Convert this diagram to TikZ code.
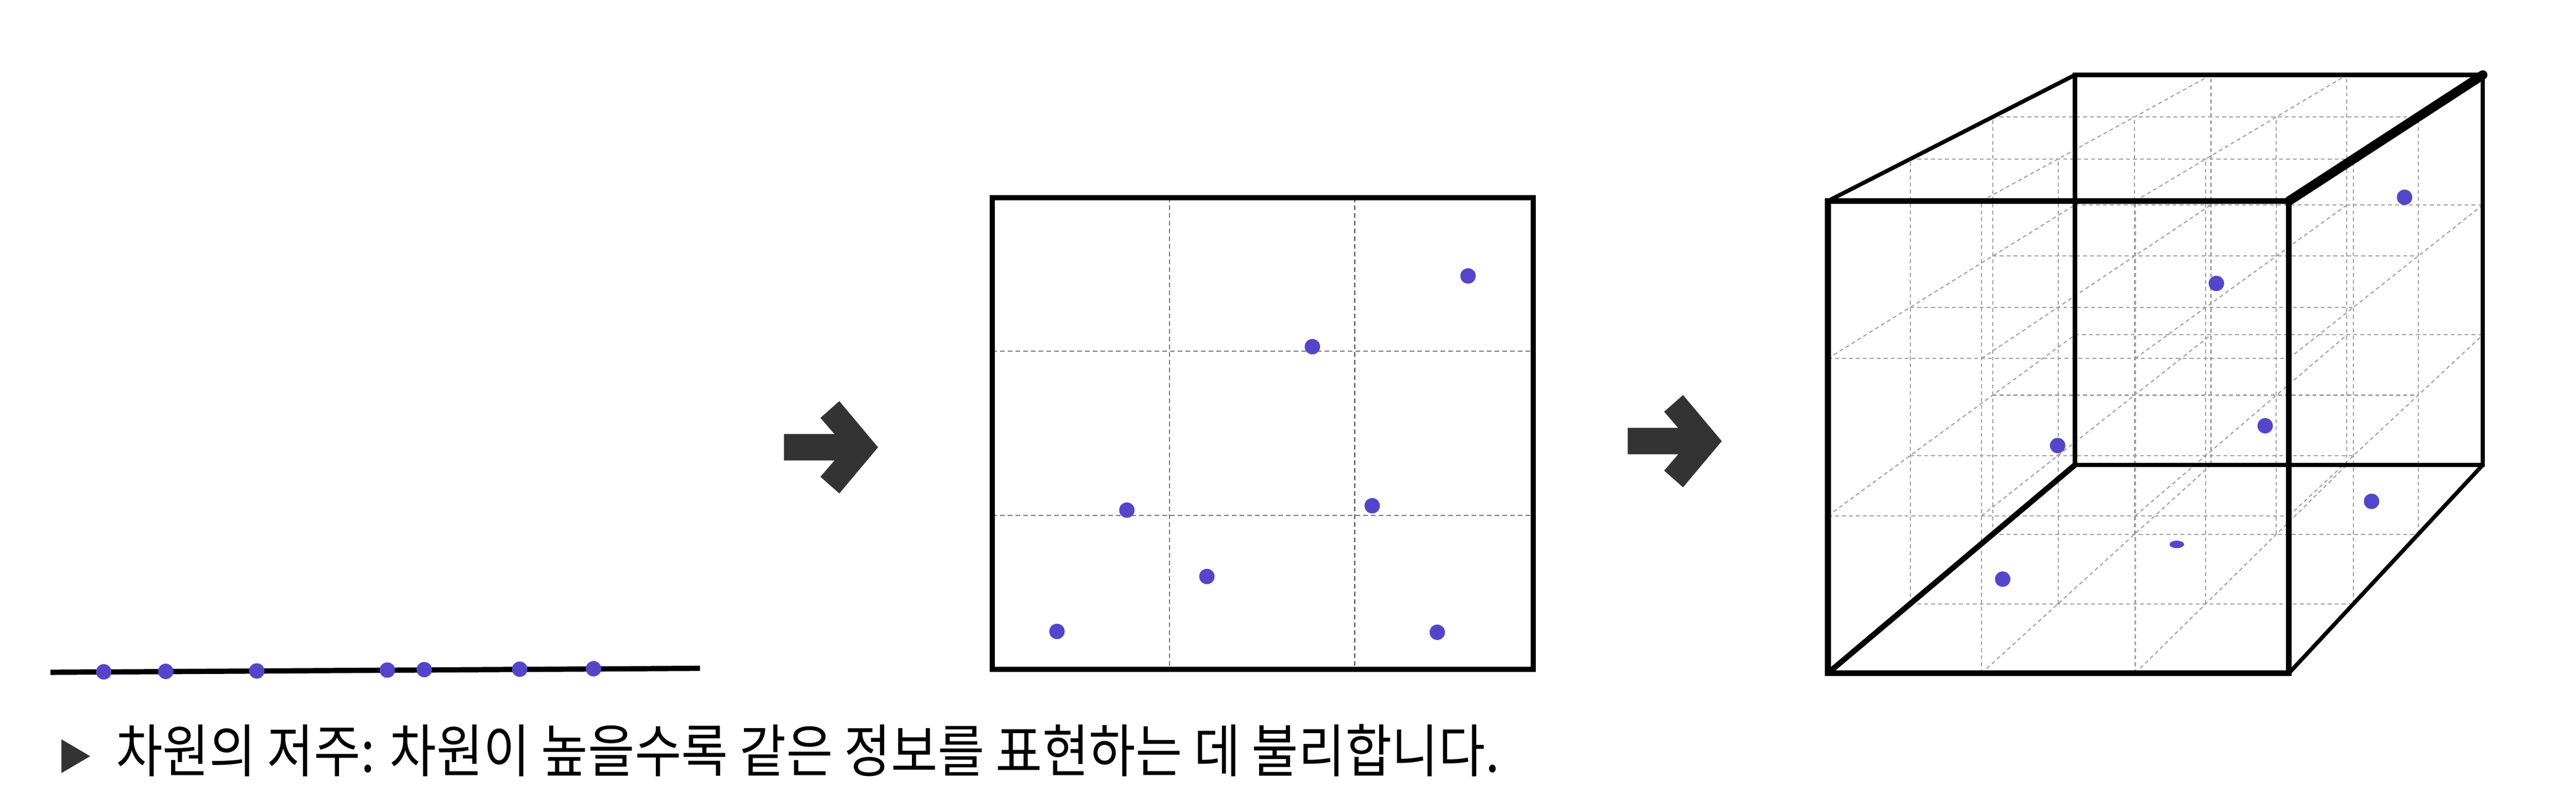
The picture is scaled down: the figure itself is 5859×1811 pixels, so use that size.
\documentclass[tikz,border=0pt]{standalone}
\usepackage{graphicx}
\usepackage{fontspec}
\newfontfamily\krfont{Noto Sans CJK KR}
\newfontfamily\symfont{DejaVu Sans}
\definecolor{dotc}{RGB}{84,70,200}
\definecolor{arrc}{RGB}{51,51,51}
\newcommand\cubeline[6]{%
  \pgfmathsetmacro\cxa{(1-#3)*(4157.5+1048.5*#1)+#3*(4719.5+927.5*#1)}%
  \pgfmathsetmacro\cya{(1-#3)*(1532-1074.5*#2)+#3*(1058-887.5*#2)}%
  \pgfmathsetmacro\cxb{(1-#6)*(4157.5+1048.5*#4)+#6*(4719.5+927.5*#4)}%
  \pgfmathsetmacro\cyb{(1-#6)*(1532-1074.5*#5)+#6*(1058-887.5*#5)}%
  \draw[cubegrid] (\cxa,\cya) -- (\cxb,\cyb);}
\begin{document}
\begin{tikzpicture}[x=0.01cm,y=-0.01cm,
  dot/.style={circle, fill=dotc, inner sep=0pt, minimum size=0.35cm},
  frame/.style={line width=3.2pt, line join=miter},
  sqgrid/.style={black!55, line width=0.8pt, dash pattern=on 3pt off 2pt},
  cubegrid/.style={black!38, line width=0.7pt, dash pattern=on 2.5pt off 2pt},
  fatarrow/.pic={\fill[arrc] (0,-30) -- (115,-30) -- (83,-67) -- (126,-105) -- (214,0) -- (126,105) -- (83,67) -- (115,30) -- (0,30) -- cycle;}
]
\useasboundingbox (0,0) rectangle (5859,1811);

% ---------- 1D ----------
\coordinate (l1) at (115,1530);
\coordinate (l2) at (1592,1521);
\draw[line width=3.4pt] (l1) -- (l2);
\foreach \x/\y [count=\i] in {236/1529,377/1528,584/1527,881/1525,965/1524,1182/1523,1350/1522}
  \node[dot] (a\i) at (\x,\y) {};

% ---------- arrows ----------
\pic at (1783,1018) {fatarrow};
\pic at (3702,1004) {fatarrow};

% ---------- 2D ----------
\coordinate (sqTL) at (2257,450);
\coordinate (sqBR) at (3487,1523);
\draw[sqgrid] (2660,450) -- (2660,1523);
\draw[sqgrid] (3081,450) -- (3081,1523);
\draw[sqgrid] (2257,799) -- (3487,799);
\draw[sqgrid] (2257,1173) -- (3487,1173);
\draw[frame] (sqTL) rectangle (sqBR);
\foreach \x/\y [count=\i] in {3339/628,2985/789,2563/1161,3121/1151,2745/1312,2404/1437,3269/1439}
  \node[dot] (b\i) at (\x,\y) {};

% ---------- 3D ----------
\foreach \a in {0,1/3,2/3,1}{
  \foreach \b in {0,1/3,2/3,1}{
    \cubeline{\a}{\b}{0}{\a}{\b}{1}
    \cubeline{0}{\a}{\b}{1}{\a}{\b}
    \cubeline{\a}{0}{\b}{\a}{1}{\b}
  }
}
\coordinate (FTL) at (4157.5,457.5);
\coordinate (FTR) at (5206,457.5);
\coordinate (FBR) at (5206,1532);
\coordinate (FBL) at (4157.5,1532);
\coordinate (BTL) at (4719.5,170.5);
\coordinate (BTR) at (5647,170.5);
\coordinate (BBR) at (5647,1058);
\coordinate (BBL) at (4719.5,1058);
\draw[line width=2.9pt, line join=miter] (BTL) -- (BTR) -- (BBR) -- (BBL) -- cycle;
\draw[line width=2.6pt, line cap=round] (FTL) -- (BTL);
\draw[line width=6pt, line cap=round] (FTR) -- (BTR);
\draw[line width=3.6pt, line cap=round] (FBL) -- (BBL);
\draw[line width=2.6pt, line cap=round] (FBR) -- (BBR);
\draw[line width=3.8pt, line join=miter] (FTL) -- (FTR) -- (FBR) -- (FBL) -- cycle;
\foreach \x/\y [count=\i] in {5469/449,5041/645,4680/1014,5152/969,5394/1141,4555/1318}
  \node[dot] (c\i) at (\x,\y) {};
\coordinate (c7) at (4951,1239);
\fill[dotc] (c7) ellipse [x radius=0.165cm, y radius=0.085cm];

% ---------- caption ----------
\node[inner sep=0pt, font=\symfont, text=arrc] (tri) at (173,1721) {\resizebox*{0.66cm}{0.77cm}{▶}};
\node[anchor=north west, inner sep=0pt, font=\krfont] (cap) at (263,1647)
  {\resizebox*{31.45cm}{1.19cm}{차원의 저주: 차원이 높을수록 같은 정보를 표현하는 데 불리합니다.}};
\end{tikzpicture}
\end{document}
